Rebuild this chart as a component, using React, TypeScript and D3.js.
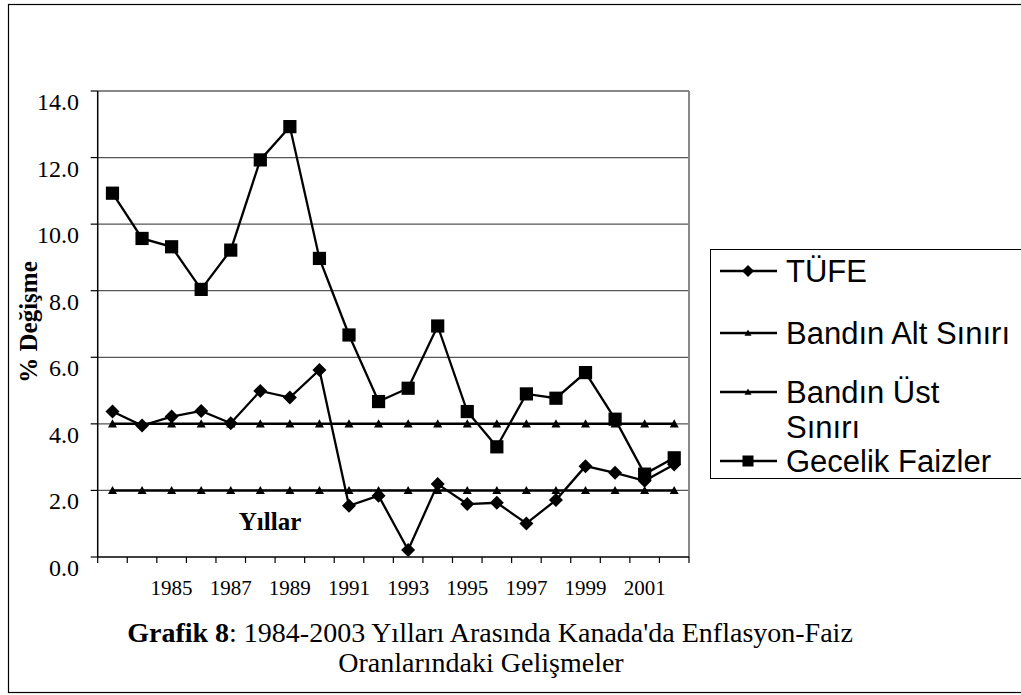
import React from "react";
import * as d3 from "d3";

const years = ["1983","1984","1985","1986","1987","1988","1989","1990","1991","1992","1993","1994","1995","1996","1997","1998","1999","2000","2001","2002"];
const yearLabels = ["1985","1987","1989","1991","1993","1995","1997","1999","2001"];
const tufe = [4.37,3.95,4.22,4.39,4.02,4.99,4.79,5.62,1.54,1.84,0.21,2.19,1.59,1.63,1.01,1.71,2.73,2.53,2.29,2.78];
const bandAlt = [2,2,2,2,2,2,2,2,2,2,2,2,2,2,2,2,2,2,2,2];
const bandUst = [4,4,4,4,4,4,4,4,4,4,4,4,4,4,4,4,4,4,4,4];
const gecelik = [10.93,9.57,9.32,8.04,9.22,11.93,12.93,8.97,6.67,4.67,5.07,6.94,4.37,3.31,4.9,4.77,5.54,4.14,2.49,2.98];
const yTicks = [0,2,4,6,8,10,12,14];

const SERIF = "'Liberation Serif','Times New Roman',serif";
const SANS = "'Liberation Sans',Arial,sans-serif";

const W = 1021, H = 695;
const L = 97.7, R = 689, T = 91, B = 557;

const x = d3.scaleBand<string>().domain(years).range([L, R]).paddingInner(0).paddingOuter(0);
const y = d3.scaleLinear().domain([0, 14]).range([B, T]);
const cx = (yr: string) => (x(yr) as number) + x.bandwidth() / 2;

const lineGen = d3.line<number>().x((_, i) => cx(years[i])).y((v) => y(v));

function Diamond({ x: px, y: py, s }: { x: number; y: number; s: number }) {
  return <path d={`M${px},${py - s}L${px + s},${py}L${px},${py + s}L${px - s},${py}Z`} fill="#000" />;
}
function Square({ x: px, y: py, s }: { x: number; y: number; s: number }) {
  return <rect x={px - s} y={py - s} width={2 * s} height={2 * s} fill="#000" />;
}
function Tri({ x: px, y: py, s }: { x: number; y: number; s: number }) {
  return <path d={`M${px},${py - s}L${px + s},${py + s * 0.8}L${px - s},${py + s * 0.8}Z`} fill="#000" />;
}

export default function App() {
  const legendItems = [
    { label: ["TÜFE"], ly: 271, ty: [282], m: "d" },
    { label: ["Bandın Alt Sınırı"], ly: 333, ty: [344], m: "t" },
    { label: ["Bandın Üst", "Sınırı"], ly: 392, ty: [403, 438], m: "t" },
    { label: ["Gecelik Faizler"], ly: 461, ty: [472], m: "s" },
  ];
  return (
    <svg width={W} height={H} style={{ position: "absolute", left: 0, top: 0, background: "#fff" }}>
      <rect x={0} y={0} width={W} height={H} fill="#fff" />
      {/* outer border */}
      <rect x={8.5} y={4.5} width={1030} height={688} fill="none" stroke="#000" strokeWidth={1.2} />

      {/* gridlines */}
      {yTicks.filter((t) => t > 0).map((t) => (
        <line key={t} x1={L} x2={R} y1={y(t)} y2={y(t)} stroke={t === 14 ? "#888" : "#555"} strokeWidth={t === 14 ? 2 : 1.2} />
      ))}
      {/* right border */}
      <line x1={R} x2={R} y1={T} y2={B} stroke="#888" strokeWidth={2} />

      {/* axes */}
      <line x1={L} x2={L} y1={T} y2={B} stroke="#000" strokeWidth={1.5} />
      <line x1={L} x2={R} y1={B} y2={B} stroke="#000" strokeWidth={1.5} />
      {yTicks.map((t) => (
        <g key={"yt" + t}>
          <line x1={L - 7} x2={L} y1={y(t)} y2={y(t)} stroke="#000" strokeWidth={1.2} />
          <text x={79} y={y(t) + 19} textAnchor="end" fontFamily={SERIF} fontSize={24} fill="#000">{t.toFixed(1)}</text>
        </g>
      ))}
      {years.map((yr) => (
        <line key={"xt" + yr} x1={x(yr) as number} x2={x(yr) as number} y1={B} y2={B + 6} stroke="#000" strokeWidth={1.2} />
      ))}
      <line x1={R} x2={R} y1={B} y2={B + 6} stroke="#000" strokeWidth={1.2} />
      {yearLabels.map((yr) => (
        <text key={"xl" + yr} x={cx(yr)} y={595} textAnchor="middle" fontFamily={SERIF} fontSize={21} fill="#000">{yr}</text>
      ))}

      {/* series lines */}
      <path d={lineGen(bandUst) || ""} fill="none" stroke="#000" strokeWidth={2.5} />
      <path d={lineGen(bandAlt) || ""} fill="none" stroke="#000" strokeWidth={2.5} />
      <path d={lineGen(tufe) || ""} fill="none" stroke="#000" strokeWidth={2.3} />
      <path d={lineGen(gecelik) || ""} fill="none" stroke="#000" strokeWidth={2.3} />
      {bandUst.map((v, i) => <Tri key={"u" + i} x={cx(years[i])} y={y(v)} s={4.5} />)}
      {bandAlt.map((v, i) => <Tri key={"a" + i} x={cx(years[i])} y={y(v)} s={4.5} />)}
      {tufe.map((v, i) => <Diamond key={"d" + i} x={cx(years[i])} y={y(v)} s={7} />)}
      {gecelik.map((v, i) => <Square key={"s" + i} x={cx(years[i])} y={y(v)} s={6.6} />)}

      {/* axis titles */}
      <text x={270} y={530} textAnchor="middle" fontFamily={SERIF} fontWeight="bold" fontSize={25} fill="#000">Yıllar</text>
      <text transform="translate(37,322) rotate(-90)" textAnchor="middle" fontFamily={SERIF} fontWeight="bold" fontSize={25} fill="#000">% Değişme</text>

      {/* legend */}
      <rect x={710.5} y={249.5} width={330} height={229} fill="#fff" stroke="#000" strokeWidth={1} />
      {legendItems.map((it) => (
        <g key={it.label[0]}>
          <line x1={720} x2={777} y1={it.ly} y2={it.ly} stroke="#000" strokeWidth={2.3} />
          {it.m === "d" && <Diamond x={748} y={it.ly} s={6} />}
          {it.m === "s" && <Square x={748} y={it.ly} s={5.5} />}
          {it.m === "t" && <Tri x={748} y={it.ly} s={3.5} />}
          {it.label.map((l, j) => (
            <text key={j} x={786} y={it.ty[j]} fontFamily={SANS} fontSize={31} fill="#000">{l}</text>
          ))}
        </g>
      ))}

      {/* caption */}
      <text x={490} y={642} textAnchor="middle" fontFamily={SERIF} fontSize={28} fill="#000">
        <tspan fontWeight="bold">Grafik 8</tspan>
        <tspan>: 1984-2003 Yılları Arasında Kanada'da Enflasyon-Faiz</tspan>
      </text>
      <text x={481} y={672} textAnchor="middle" fontFamily={SERIF} fontSize={28} fill="#000">Oranlarındaki Gelişmeler</text>
    </svg>
  );
}
